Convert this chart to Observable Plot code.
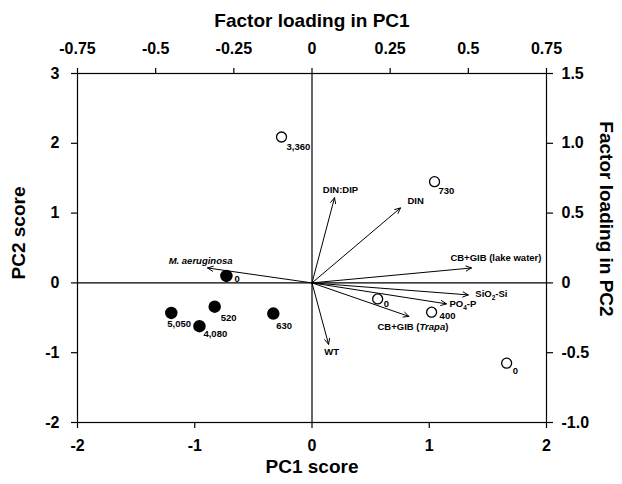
<!DOCTYPE html>
<html>
<head>
<meta charset="utf-8">
<script src="https://cdn.jsdelivr.net/npm/d3@7"></script>
<script src="https://cdn.jsdelivr.net/npm/@observablehq/plot@0.6"></script>
<style>
  html, body { margin: 0; padding: 0; background: #fff; }
  svg { font-family: "Liberation Sans", Arial, sans-serif; }
</style>
</head>
<body>
<div id="chart"></div>
<script>
// Axis ticks
const pc1Ticks = [-2, -1, 0, 1, 2];
const pc2Ticks = [-2, -1, 0, 1, 2, 3];
const loading1Ticks = [-0.75, -0.5, -0.25, 0, 0.25, 0.5, 0.75];
const loading2Ticks = [-1.0, -0.5, 0, 0.5, 1.0, 1.5];

// Sample scores (filled and open circles)
const filledPC1 = [-0.73, -0.83, -1.20, -0.96, -0.33];
const filledPC2 = [0.10, -0.34, -0.43, -0.62, -0.44];
const filledLabel = ["0", "520", "5,050", "4,080", "630"];

const openPC1 = [-0.26, 1.045, 0.56, 1.02, 1.66];
const openPC2 = [2.09, 1.45, -0.23, -0.42, -1.15];
const openLabel = ["3,360", "730", "0", "400", "0"];

// Variable loadings (arrows)
const varNames = ["M. aeruginosa", "WT", "DIN:DIP", "DIN", "CB+GIB (lake water)", "SiO2-Si", "PO4-P", "CB+GIB (Trapa)"];
const loadingPC1 = [-0.334, 0.053, 0.072, 0.283, 0.51, 0.50, 0.43, 0.31];
const loadingPC2 = [0.107, -0.44, 0.61, 0.537, 0.107, -0.086, -0.15, -0.24];

// ratio between loading axes and score axes
const rx = loading1Ticks[loading1Ticks.length - 1] / pc1Ticks[pc1Ticks.length - 1];
const ry = loading2Ticks[loading2Ticks.length - 1] / pc2Ticks[pc2Ticks.length - 1];

const filled = filledPC1.map((x, i) => ({x, y: filledPC2[i], label: filledLabel[i]}));
const open = openPC1.map((x, i) => ({x, y: openPC2[i], label: openLabel[i]}));
const vars = varNames.map((name, i) => ({name, x: loadingPC1[i] / rx, y: loadingPC2[i] / ry}));

// label placement styles (pixel nudges)
const varLabelStyle = [
  {textAnchor: "middle", dx: -7, dy: -7},
  {textAnchor: "middle", dx: 3, dy: 8},
  {textAnchor: "middle", dx: 6, dy: -8},
  {textAnchor: "start", dx: 7, dy: -7},
  {textAnchor: "end", dx: 70, dy: -10},
  {textAnchor: "start", dx: 7, dy: -1},
  {textAnchor: "start", dx: 3, dy: 0},
  {textAnchor: "middle", dx: 4, dy: 11}
];
const filledNudge = [[8, 3], [6, 11], [-4, 11], [4, 8], [3, 12]];
const openNudge = [[5, 10], [4, 9], [6, 5], [8, 4], [6, 8]];

const fmt2 = v => { const r = Math.round(v * 100) / 100; return r === 0 ? "0" : String(r); };
const fmt1 = v => { const r = Math.round(v * 10) / 10; return r === 0 ? "0" : r.toFixed(1); };

const tickFont = {fontSize: 16, fontWeight: "bold"};
const ptFont = {fontSize: 9.5, fontWeight: "bold"};
const titleFont = {fontSize: 19, fontWeight: "bold", lineAnchor: "middle", textAnchor: "middle"};

const chart = Plot.plot({
  width: 622,
  height: 484,
  marginLeft: 77,
  marginRight: 76,
  marginTop: 73,
  marginBottom: 62,
  x: {domain: [-2, 2], axis: null},
  y: {domain: [-2, 3], axis: null},
  style: {fontFamily: "'Liberation Sans', Arial, sans-serif", color: "black", background: "white"},
  marks: [
    Plot.frame({stroke: "black", strokeWidth: 1.2}),
    Plot.ruleX([0], {stroke: "black", strokeWidth: 1.2}),
    Plot.ruleY([0], {stroke: "black", strokeWidth: 1.2}),
    Plot.axisX({anchor: "bottom", ticks: pc1Ticks, tickSize: 6, tickPadding: 11, tickFormat: d => String(d), label: null, strokeWidth: 1.2, ...tickFont}),
    Plot.axisX({anchor: "top", ticks: loading1Ticks.map(v => v / rx), tickSize: 6, tickPadding: 14, tickFormat: d => fmt2(d * rx), label: null, strokeWidth: 1.2, ...tickFont}),
    Plot.axisY({anchor: "left", ticks: pc2Ticks, tickSize: 6, tickPadding: 12, tickFormat: d => String(d), label: null, strokeWidth: 1.2, ...tickFont}),
    Plot.axisY({anchor: "right", ticks: loading2Ticks.map(v => v / ry), tickSize: 6, tickPadding: 9, tickFormat: d => fmt1(d * ry), label: null, strokeWidth: 1.2, ...tickFont}),
    // titles
    Plot.text(["Factor loading in PC1"], {frameAnchor: "top", dy: -53, ...titleFont}),
    Plot.text(["PC1 score"], {frameAnchor: "bottom", dy: 44, ...titleFont}),
    Plot.text(["PC2 score"], {frameAnchor: "left", dx: -59, dy: -15, rotate: -90, ...titleFont}),
    Plot.text(["Factor loading in PC2"], {frameAnchor: "right", dx: 60, dy: -29, rotate: 90, ...titleFont}),
    // arrows
    Plot.arrow(vars, {x1: 0, y1: 0, x2: "x", y2: "y", stroke: "black", strokeWidth: 1, headLength: 9, headAngle: 50}),
    ...vars.map((v, i) => Plot.text([v], {x: "x", y: "y", text: "name", lineAnchor: "middle", ...varLabelStyle[i], ...ptFont})),
    // samples
    Plot.dot(filled, {x: "x", y: "y", r: 5.5, fill: "black", stroke: "black"}),
    Plot.dot(open, {x: "x", y: "y", r: 5, fill: "white", stroke: "black", strokeWidth: 1.3}),
    ...filled.map((p, i) => Plot.text([p], {x: "x", y: "y", text: "label", textAnchor: "start", dx: filledNudge[i][0], dy: filledNudge[i][1], lineAnchor: "middle", ...ptFont})),
    ...open.map((p, i) => Plot.text([p], {x: "x", y: "y", text: "label", textAnchor: "start", dx: openNudge[i][0], dy: openNudge[i][1], lineAnchor: "middle", ...ptFont}))
  ]
});

document.getElementById("chart").appendChild(chart);

// rich text: italics and subscripts
d3.select(chart).selectAll("text").each(function () {
  const t = d3.select(this);
  const s = t.text();
  if (s === "M. aeruginosa") {
    t.attr("font-style", "italic");
  } else if (s === "CB+GIB (Trapa)") {
    t.text(null);
    t.append("tspan").text("CB+GIB (");
    t.append("tspan").attr("font-style", "italic").text("Trapa");
    t.append("tspan").text(")");
  } else if (s === "SiO2-Si" || s === "PO4-P") {
    const [a, b, c] = s === "SiO2-Si" ? ["SiO", "2", "-Si"] : ["PO", "4", "-P"];
    t.text(null);
    t.append("tspan").text(a);
    t.append("tspan").attr("font-size", "6.5").attr("dy", "3").text(b);
    t.append("tspan").attr("dy", "-3").text(c);
  }
});
</script>
</body>
</html>
